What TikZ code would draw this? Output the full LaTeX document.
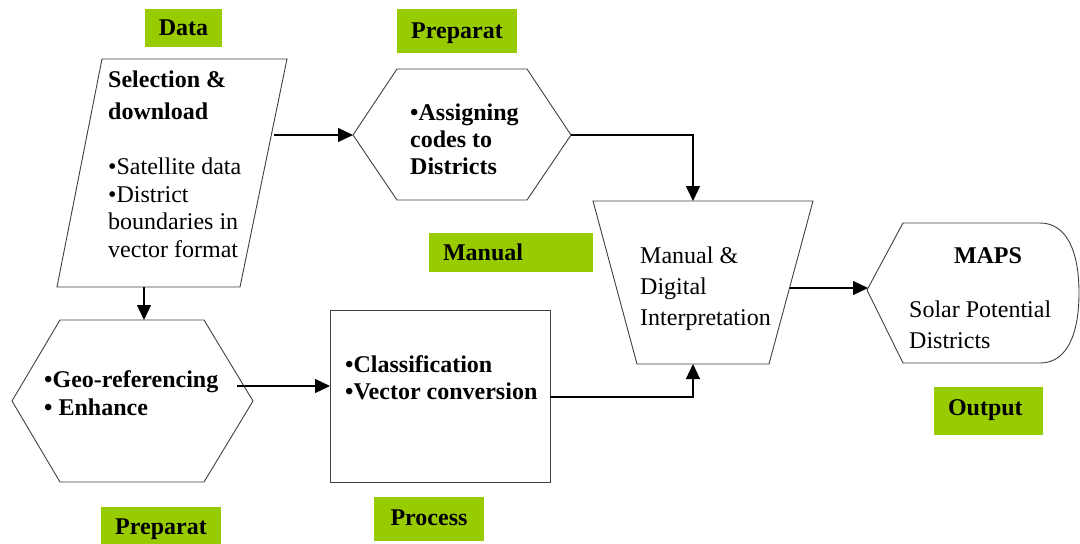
\documentclass[tikz,border=0pt]{standalone}
\usepackage{fontspec}
\setmainfont{Liberation Serif}
\usetikzlibrary{arrows.meta}
\definecolor{lblgreen}{RGB}{153,204,0}
\begin{document}
\begin{tikzpicture}[x=1pt,y=-1pt,
  shapeline/.style={draw=black!75, line width=0.9pt, line join=miter},
  conn/.style={draw=black, line width=1.2pt, -{Triangle[length=15pt,width=14pt]}},
  tag/.style={fill=lblgreen, inner sep=0pt, font={\fontsize{24}{28}\selectfont\bfseries}, text height=16.5pt, text depth=1pt},
  txt/.style={inner sep=0pt, anchor=north west, align=left},
]
\useasboundingbox (0,0) rectangle (1080,544);

% green labels
\node[tag, minimum width=77pt, minimum height=38pt] (data) at (183.5,28) {Data};
\node[tag, minimum width=120pt, minimum height=44pt] (prepA) at (457,31) {Preparat};
\node[tag, minimum width=164pt, minimum height=39pt, text width=136pt, align=left, inner xsep=14pt] (manual) at (511,252.5) {Manual};
\node[tag, minimum width=109pt, minimum height=48pt, text width=81pt, align=left, inner xsep=14pt, text depth=8pt] (output) at (988.5,411) {Output};
\node[tag, minimum width=120pt, minimum height=39pt] (prepB) at (161,526.5) {Preparat};
\node[tag, minimum width=110pt, minimum height=44pt, text depth=4pt] (process) at (429,519) {Process};

% shapes
\draw[shapeline] (102,59) -- (287,59) -- (240,287) -- (57,287) -- cycle;
\draw[shapeline] (353,135) -- (397,69) -- (527,69) -- (571,135) -- (527,200) -- (397,200) -- cycle;
\draw[shapeline] (593,201) -- (813,201) -- (769,364) -- (637,364) -- cycle;
\draw[shapeline] (867,290) -- (903,223) -- (1040,223)
  .. controls (1066,223) and (1079,250) .. (1079,293)
  .. controls (1079,336) and (1066,363) .. (1040,363) -- (903,363) -- cycle;
\draw[shapeline] (12,401) -- (60,320) -- (204,320) -- (253,401) -- (204,482) -- (60,482) -- cycle;
\draw[shapeline] (330,310) rectangle (550,482);

% texts
\node[txt, font={\fontsize{24}{32}\selectfont\bfseries}] (selhead) at (108,70.5) {Selection \&\\download};
\node[txt, font={\fontsize{24}{27.7}\selectfont}] (sellist) at (108,157.5) {•Satellite data\\•District\\boundaries in\\vector format};
\node[txt, font={\fontsize{24}{27}\selectfont\bfseries}] (assign) at (410,103.5) {•Assigning\\codes to\\Districts};
\node[txt, font={\fontsize{24}{31}\selectfont}] (interp) at (640,246.5) {Manual \&\\Digital\\Interpretation};
\node[font={\fontsize{24}{28}\selectfont\bfseries}, inner sep=0pt, anchor=base] (maps) at (988,263) {MAPS};
\node[txt, font={\fontsize{24}{31}\selectfont}] (solar) at (909,300.5) {Solar Potential\\Districts};
\node[txt, font={\fontsize{24}{28}\selectfont\bfseries}] (geo) at (44,370.5) {•Geo-referencing\\• Enhance};
\node[txt, font={\fontsize{24}{27}\selectfont\bfseries}] (classif) at (345,355.5) {•Classification\\•Vector conversion};

% connector end points
\coordinate (parR) at (274,135);
\coordinate (hexAL) at (353,135);
\coordinate (hexAR) at (571,135);
\coordinate (trapT) at (693,201);
\coordinate (parB) at (144,287);
\coordinate (hexBT) at (144,320);
\coordinate (geoOut) at (237,386);
\coordinate (procL) at (330,386);
\coordinate (procR) at (550,397);
\coordinate (trapB) at (693,364);
\coordinate (trapR) at (790,288);
\coordinate (outL) at (868,288);

% connectors
\draw[conn] (parR) -- (hexAL);
\draw[conn] (hexAR) -| (trapT);
\draw[conn] (parB) -- (hexBT);
\draw[conn] (geoOut) -- (procL);
\draw[conn] (procR) -| (trapB);
\draw[conn] (trapR) -- (outL);
\end{tikzpicture}
\end{document}
